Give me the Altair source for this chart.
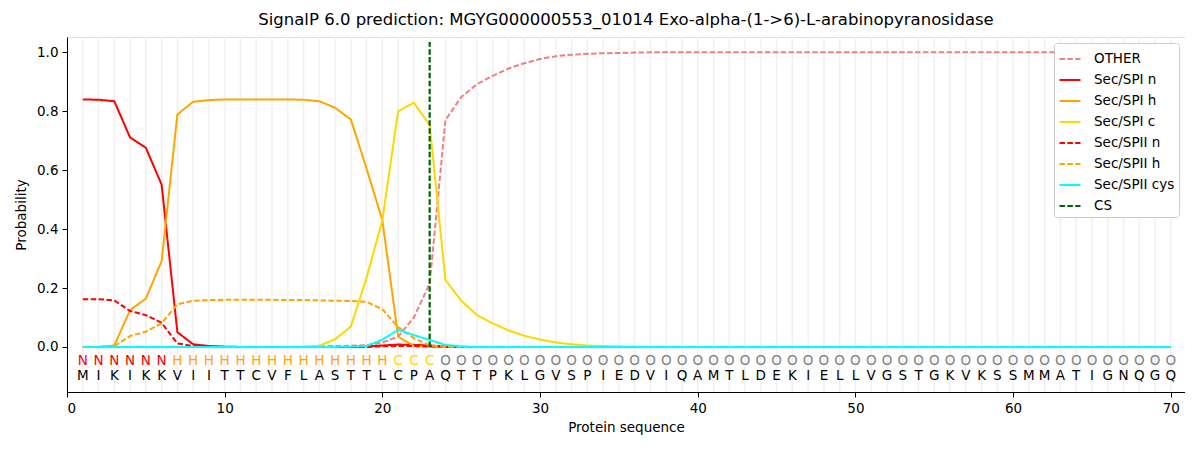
import altair as alt
import pandas as pd

positions = list(range(1, 71))
sequence = list("MIKIKKVIITTCVFLASTTLCPAQTTPKLGVSPIEDVIQAMTLDEKIELLVGSTGKVKSSMMATIGNQGQ")
labels = list("NNNNNN" + "HHHHHHHHHHHHHH" + "CCC" + "O" * 47)

other = [0, 0, 0, 0, 0, 0, 0, 0, 0, 0, 0, 0, 0, 0, 0, 0.002, 0.003, 0.004, 0.006, 0.015,
         0.035, 0.10, 0.215, 0.77, 0.848, 0.892, 0.92, 0.945, 0.963, 0.977,
         0.987, 0.992, 0.995, 0.997, 0.998, 0.999, 1.0, 1.0, 1.0, 1.0,
         1.0, 1.0, 1.0, 1.0, 1.0, 1.0, 1.0, 1.0, 1.0, 1.0,
         1.0, 1.0, 1.0, 1.0, 1.0, 1.0, 1.0, 1.0, 1.0, 1.0,
         1.0, 1.0, 1.0, 1.0, 1.0, 1.0, 1.0, 1.0, 1.0, 1.0]
spi_n = [0.840, 0.839, 0.834, 0.711, 0.676, 0.551, 0.050, 0.009, 0.003, 0.001,
         0, 0, 0, 0, 0, 0, 0, 0, 0.002, 0.005,
         0.008, 0.007, 0.005, 0.001, 0, 0, 0, 0, 0, 0,
         0, 0, 0, 0, 0, 0, 0, 0, 0, 0,
         0, 0, 0, 0, 0, 0, 0, 0, 0, 0,
         0, 0, 0, 0, 0, 0, 0, 0, 0, 0,
         0, 0, 0, 0, 0, 0, 0, 0, 0, 0]
spi_h = [0, 0, 0.005, 0.125, 0.164, 0.291, 0.789, 0.832, 0.838, 0.840,
         0.840, 0.840, 0.840, 0.840, 0.839, 0.834, 0.812, 0.772, 0.605, 0.43,
         0.035, 0.003, 0, 0, 0, 0, 0, 0, 0, 0,
         0, 0, 0, 0, 0, 0, 0, 0, 0, 0,
         0, 0, 0, 0, 0, 0, 0, 0, 0, 0,
         0, 0, 0, 0, 0, 0, 0, 0, 0, 0,
         0, 0, 0, 0, 0, 0, 0, 0, 0, 0]
spi_c = [0, 0, 0, 0, 0, 0, 0, 0, 0, 0,
         0, 0, 0, 0, 0.001, 0.004, 0.026, 0.069, 0.235, 0.43,
         0.800, 0.829, 0.753, 0.227, 0.157, 0.108, 0.080, 0.056, 0.038, 0.025,
         0.015, 0.009, 0.005, 0.003, 0.002, 0.001, 0, 0, 0, 0,
         0, 0, 0, 0, 0, 0, 0, 0, 0, 0,
         0, 0, 0, 0, 0, 0, 0, 0, 0, 0,
         0, 0, 0, 0, 0, 0, 0, 0, 0, 0]
spii_n = [0.162, 0.162, 0.158, 0.122, 0.108, 0.082, 0.012, 0.003, 0.001, 0,
          0, 0, 0, 0, 0, 0, 0, 0, 0, 0.002,
          0.003, 0.003, 0.002, 0, 0, 0, 0, 0, 0, 0,
          0, 0, 0, 0, 0, 0, 0, 0, 0, 0,
          0, 0, 0, 0, 0, 0, 0, 0, 0, 0,
          0, 0, 0, 0, 0, 0, 0, 0, 0, 0,
          0, 0, 0, 0, 0, 0, 0, 0, 0, 0]
spii_h = [0, 0, 0.003, 0.037, 0.052, 0.080, 0.145, 0.157, 0.159, 0.160,
          0.160, 0.160, 0.160, 0.159, 0.159, 0.158, 0.157, 0.156, 0.153, 0.128,
          0.067, 0.030, 0.005, 0.001, 0, 0, 0, 0, 0, 0,
          0, 0, 0, 0, 0, 0, 0, 0, 0, 0,
          0, 0, 0, 0, 0, 0, 0, 0, 0, 0,
          0, 0, 0, 0, 0, 0, 0, 0, 0, 0,
          0, 0, 0, 0, 0, 0, 0, 0, 0, 0]
spii_cys = [0, 0, 0, 0, 0, 0, 0, 0, 0, 0,
            0, 0, 0, 0, 0, 0, 0, 0.001, 0.003, 0.025,
            0.058, 0.040, 0.024, 0.007, 0.002, 0, 0, 0, 0, 0,
            0, 0, 0, 0, 0, 0, 0, 0, 0, 0,
            0, 0, 0, 0, 0, 0, 0, 0, 0, 0,
            0, 0, 0, 0, 0, 0, 0, 0, 0, 0,
            0, 0, 0, 0, 0, 0, 0, 0, 0, 0]
cs_position = 23

series_names = ["OTHER", "Sec/SPI n", "Sec/SPI h", "Sec/SPI c",
                "Sec/SPII n", "Sec/SPII h", "Sec/SPII cys", "CS"]
series_colors = ["#f08080", "#ff0000", "#ffa500", "#ffd700",
                 "#ff0000", "#ffa500", "#00ffff", "#006400"]
series_dashes = [[5.5, 2.4], [1, 0], [1, 0], [1, 0],
                 [5.5, 2.4], [5.5, 2.4], [1, 0], [5.5, 2.4]]
label_colors = {"N": "#ff0000", "H": "#ffa500", "C": "#ffd700", "O": "#808080"}

series_values = [other, spi_n, spi_h, spi_c, spii_n, spii_h, spii_cys]
rows = []
for name, vals in zip(series_names[:-1], series_values):
    for p, v in zip(positions, vals):
        rows.append({"pos": p, "prob": v, "series": name, "order": p})
lines_df = pd.DataFrame(rows)

seq_df = pd.DataFrame({
    "pos": positions,
    "aa": sequence,
    "lab": labels,
    "labcolor": [label_colors[l] for l in labels],
})
cs_df = pd.DataFrame({"pos": [cs_position], "y0": [0.0], "y1": [1.035], "series": ["CS"]})
grid_df = pd.DataFrame({"pos": positions})

FONT = "DejaVu Sans"
xscale = alt.Scale(domain=[0, 70.9], nice=False, zero=False)
yscale = alt.Scale(domain=[-0.153, 1.052], nice=False, zero=False)

color_scale = alt.Scale(domain=series_names, range=series_colors)
dash_scale = alt.Scale(domain=series_names, range=series_dashes)
legend = alt.Legend(title=None, orient="top-right", offset=6, fillColor="white",
                    strokeColor="#cccccc", cornerRadius=3, padding=4,
                    labelFont=FONT, labelFontSize=13.5, labelColor="black",
                    symbolType="stroke", symbolSize=441, symbolStrokeWidth=2.2,
                    rowPadding=2, labelOffset=12)

x_axis = alt.Axis(values=[0, 10, 20, 30, 40, 50, 60, 70], grid=False, title="Protein sequence",
                  labelFont=FONT, labelFontSize=13.5, titleFont=FONT, titleFontSize=13.5,
                  titleFontWeight="normal", tickSize=5, labelPadding=4, titlePadding=6,
                  domainColor="black", tickColor="black", labelColor="black", titleColor="black")
y_axis = alt.Axis(values=[0, 0.2, 0.4, 0.6, 0.8, 1.0], format=".1f", grid=False, title="Probability",
                  labelFont=FONT, labelFontSize=13.5, titleFont=FONT, titleFontSize=13.5,
                  titleFontWeight="normal", tickSize=5, labelPadding=4, titlePadding=8,
                  domainColor="black", tickColor="black", labelColor="black", titleColor="black")

grid = alt.Chart(grid_df).mark_rule(color="#f0f0f0", strokeWidth=1.5).encode(
    x=alt.X("pos:Q", scale=xscale, axis=x_axis)
)

lines = alt.Chart(lines_df).mark_line(strokeWidth=2).encode(
    x=alt.X("pos:Q", scale=xscale, axis=x_axis),
    y=alt.Y("prob:Q", scale=yscale, axis=y_axis),
    color=alt.Color("series:N", scale=color_scale, legend=legend),
    strokeDash=alt.StrokeDash("series:N", scale=dash_scale, legend=legend),
    order="order:Q",
)

cs_rule = alt.Chart(cs_df).mark_rule(strokeWidth=2.2).encode(
    x=alt.X("pos:Q", scale=xscale),
    y=alt.Y("y0:Q", scale=yscale),
    y2="y1:Q",
    color=alt.Color("series:N", scale=color_scale, legend=legend),
    strokeDash=alt.StrokeDash("series:N", scale=dash_scale, legend=legend),
)

lab_text = alt.Chart(seq_df).transform_calculate(yv="-0.049").mark_text(
    font=FONT, fontSize=13.5, baseline="middle", align="center"
).encode(
    x=alt.X("pos:Q", scale=xscale),
    y=alt.Y("yv:Q", scale=yscale),
    text="lab:N",
    color=alt.Color("labcolor:N", scale=None),
)

aa_text = alt.Chart(seq_df).transform_calculate(yv="-0.097").mark_text(
    font=FONT, fontSize=13.5, baseline="middle", align="center", color="black"
).encode(
    x=alt.X("pos:Q", scale=xscale),
    y=alt.Y("yv:Q", scale=yscale),
    text="aa:N",
)

chart = alt.layer(grid, lines, cs_rule, lab_text, aa_text).properties(
    width=1118, height=355,
    autosize=alt.AutoSizeParams(type="none"),
    padding={"left": 59, "top": 29, "right": 0, "bottom": 50},
    title=alt.TitleParams(
        "SignalP 6.0 prediction: MGYG000000553_01014 Exo-alpha-(1->6)-L-arabinopyranosidase",
        font=FONT, fontSize=16.5, fontWeight="normal", color="black", anchor="middle", offset=8,
    ),
).configure_view(stroke="black", strokeWidth=1.2).configure(
    background="white"
)

chart.save("out.html", embed_options={"renderer": "svg", "actions": False})
